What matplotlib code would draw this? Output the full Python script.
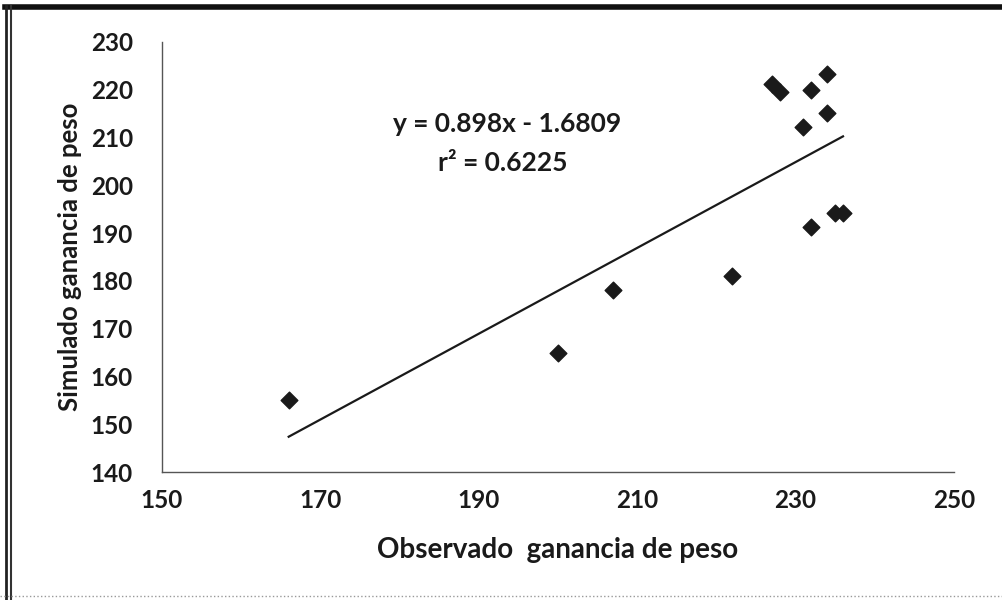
import numpy as np
import matplotlib.pyplot as plt
from matplotlib.lines import Line2D

# datos
observado = [166, 200, 207, 222, 227, 228, 232, 234, 234, 231, 232, 235, 236]
simulado = [155, 165, 178, 181, 221.3, 219.6, 220, 223.3, 215.2, 212.2, 191.2, 194.2, 194.2]
pendiente = 0.898
intercepto = -1.6809
r2 = 0.6225

xticks = [150, 170, 190, 210, 230, 250]
yticks = [140, 150, 160, 170, 180, 190, 200, 210, 220, 230]

plt.rcParams['font.family'] = ['Lato', 'DejaVu Sans']
plt.rcParams['font.weight'] = 'bold'

fig = plt.figure(figsize=(10.03, 6), dpi=100)
ax = fig.add_axes([0.1615, 0.2133, 0.951 - 0.1615, 0.93 - 0.2133])

ax.scatter(observado, simulado, marker='D', s=72, color='#1a1a1a', zorder=3)

xs = np.array([min(observado), max(observado)])
ax.plot(xs, pendiente * xs + intercepto, color='#1a1a1a', lw=1.6)

ax.text(0.436, 0.809, "y = %.3fx - %.4f" % (pendiente, -intercepto), transform=ax.transAxes,
        ha='center', va='center', fontsize=19, fontweight='bold', color='#1a1a1a')
ax.text(0.43, 0.719, "r² = %.4f" % r2, transform=ax.transAxes,
        ha='center', va='center', fontsize=19, fontweight='bold', color='#1a1a1a')

ax.set_xlim(150, 250)
ax.set_ylim(140, 230)
ax.set_xticks(xticks)
ax.set_yticks(yticks)
ax.tick_params(length=0, labelsize=17.5, colors='#1a1a1a')
ax.tick_params(axis='y', pad=21)
ax.tick_params(axis='x', pad=12)
for lbl in ax.get_xticklabels() + ax.get_yticklabels():
    lbl.set_fontweight('bold')

ax.spines['top'].set_visible(False)
ax.spines['right'].set_visible(False)
for s in ['left', 'bottom']:
    ax.spines[s].set_color('#555555')
    ax.spines[s].set_linewidth(1.0)

ax.set_xlabel("Observado  ganancia de peso", fontsize=20, fontweight='bold',
              color='#1a1a1a', labelpad=18)
ax.set_ylabel("Simulado ganancia de peso", fontsize=18.5, fontweight='bold',
              color='#1a1a1a', labelpad=6)

# marco del recorte
fig.add_artist(Line2D([0.005, 1.0], [0.988, 0.988], transform=fig.transFigure,
                      color='#111111', lw=4))
fig.add_artist(Line2D([0.006, 0.006], [0.0, 0.99], transform=fig.transFigure,
                      color='#222222', lw=2))
fig.add_artist(Line2D([0.011, 0.011], [0.0, 0.99], transform=fig.transFigure,
                      color='#333333', lw=1.5))
fig.add_artist(Line2D([0.0, 1.0], [0.006, 0.006], transform=fig.transFigure,
                      color='#999999', lw=1, ls=':'))

fig.savefig("out.png", dpi=100)
